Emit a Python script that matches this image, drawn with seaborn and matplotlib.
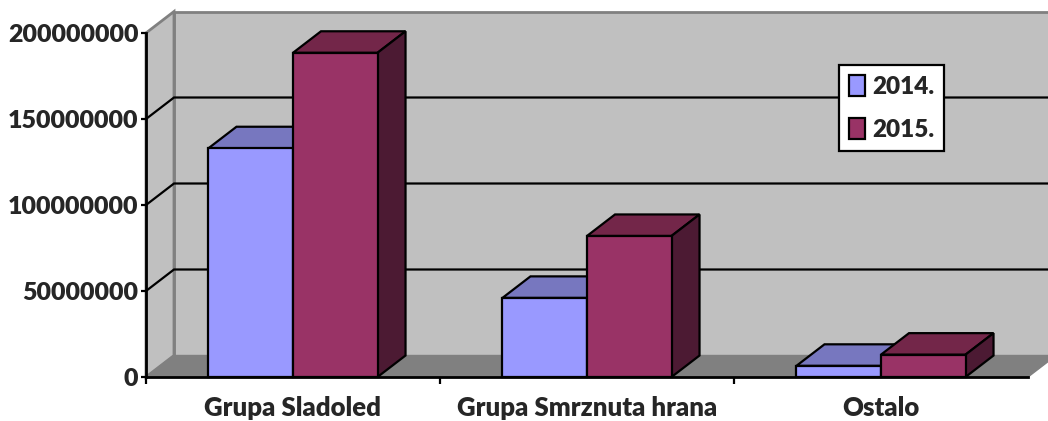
import matplotlib
matplotlib.use('Agg')
import matplotlib.pyplot as plt
import pandas as pd
import seaborn as sns
from matplotlib.patches import Polygon
from matplotlib.transforms import Affine2D

categories = ['Grupa Sladoled', 'Grupa Smrznuta hrana', 'Ostalo']
values_2014 = [133000000, 46000000, 6500000]
values_2015 = [188500000, 82000000, 13000000]
y_ticks = [0, 50000000, 100000000, 150000000, 200000000]

colors = {'2014.': '#9999FF', '2015.': '#993366'}
top_colors = {'2014.': '#7777BF', '2015.': '#732649'}
side_colors = {'2014.': '#7777BF', '2015.': '#4C1A33'}

# dubina 3D efekta u pikselima
DX, DY = 28, 21.5
W, H = 1048, 421
TEXT_WEIGHT = 'heavy'

sns.set_style('white')
plt.rcParams['font.family'] = ['Lato', 'DejaVu Sans']
plt.rcParams['font.weight'] = TEXT_WEIGHT

df = pd.DataFrame({
    'kategorija': categories * 2,
    'godina': ['2014.'] * 3 + ['2015.'] * 3,
    'vrijednost': values_2014 + values_2015,
})

fig = plt.figure(figsize=(W / 100, H / 100), dpi=100)
ax = fig.add_axes([146 / W, (H - 377) / H, (1028 - 146) / W, (377 - 33) / H])

sns.barplot(data=df, x='kategorija', y='vrijednost', hue='godina', order=categories,
            palette=colors, width=0.575, saturation=1, edgecolor='black', linewidth=1.6,
            ax=ax)
ax.set_xlim(-0.5, 2.5)
ax.set_ylim(0, y_ticks[-1])
ax.set_xlabel('')
ax.set_ylabel('')
ax.patch.set_visible(False)

back = ax.transData + Affine2D().translate(DX, DY)
x0, x1 = ax.get_xlim()
y0, y1 = ax.get_ylim()


def add_face(points_front, points_back, color, z, edge='none', lw=0):
    # tocke prednje ravnine + tocke pomaknute u dubinu -> jedna ploha
    disp = [ax.transData.transform(p) for p in points_front]
    disp += [back.transform(p) for p in points_back]
    ax.add_patch(Polygon(disp, closed=True, transform=None, facecolor=color, edgecolor=edge,
                         linewidth=lw, clip_on=False, zorder=z, joinstyle='miter'))


# zidovi i pod
add_face([], [(x0, y0), (x0, y1), (x1 + 0.2, y1), (x1 + 0.2, y0)], '#C0C0C0', 0.1, '#808080', 2)
add_face([(x0, y0), (x0, y1)], [(x0, y1), (x0, y0)], '#C0C0C0', 0.2, '#808080', 2)
add_face([(x0, y0), (x1, y0)], [(x1, y0), (x0, y0)], '#808080', 0.3, '#808080', 1)

# mreza na zidovima
for t in y_ticks[1:-1]:
    a = ax.transData.transform((x0, t))
    b = back.transform((x0, t))
    c = back.transform((x1 + 0.2, t))
    ax.plot([a[0], b[0], c[0]], [a[1], b[1], c[1]], color='black', lw=1.6, transform=None,
            clip_on=False, zorder=0.5, solid_joinstyle='miter')

# 3D plohe stupaca
for i, (container, year) in enumerate(zip(ax.containers, ['2014.', '2015.'])):
    for bar in container:
        l, r = bar.get_x(), bar.get_x() + bar.get_width()
        h = bar.get_height()
        add_face([(l, h), (r, h)], [(r, h), (l, h)], top_colors[year], 2 + i, 'black', 1.6)
        add_face([(r, 0), (r, h)], [(r, h), (r, 0)], side_colors[year], 2 + i, 'black', 1.6)
        bar.set_zorder(2.5 + i)
        bar.set_clip_on(False)

ax.set_yticks(y_ticks)
ax.set_yticklabels([str(t) for t in y_ticks], fontsize=18, fontweight=TEXT_WEIGHT)
ax.set_xticks(range(3))
ax.set_xticklabels(categories, fontsize=18.5, fontweight=TEXT_WEIGHT)
ax.set_xticks([-0.5, 0.5, 1.5], minor=True)
ax.tick_params(axis='y', left=True, length=3.5, width=1.6, color='black', pad=2)
ax.tick_params(axis='x', which='major', bottom=False, pad=10)
ax.tick_params(axis='x', which='minor', bottom=True, length=5, width=1.6, color='black')

for s in ['top', 'right']:
    ax.spines[s].set_visible(False)
for s in ['left', 'bottom']:
    ax.spines[s].set_color('black')
    ax.spines[s].set_linewidth(2)
ax.spines['left'].set_zorder(1.5)
ax.spines['bottom'].set_zorder(5)

handles, labels = ax.get_legend_handles_labels()
leg = ax.legend(handles, labels, loc='upper left', bbox_to_anchor=(839 / W, (H - 65) / H),
                bbox_transform=fig.transFigure, fancybox=False, framealpha=1, edgecolor='black',
                handlelength=0.66, handleheight=0.95, handletextpad=0.3,
                labelspacing=0.85, borderpad=0.4, borderaxespad=0,
                prop={'weight': TEXT_WEIGHT, 'size': 17.5})
leg.get_frame().set_linewidth(1.6)
leg.set_zorder(10)

fig.savefig('out.png', dpi=100)
